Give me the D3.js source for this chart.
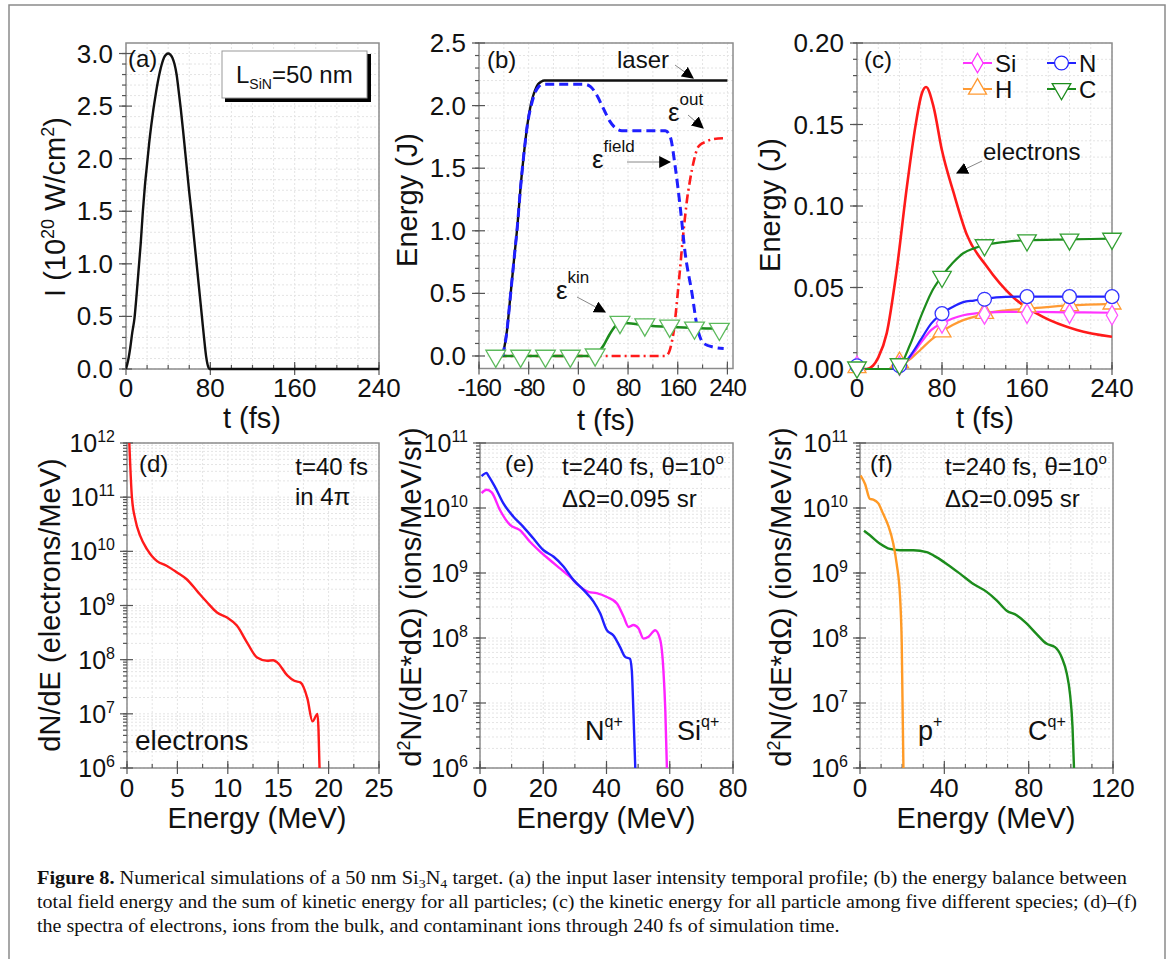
<!DOCTYPE html>
<html><head><meta charset="utf-8">
<script src="https://cdn.jsdelivr.net/npm/d3@7"></script>
<style>
html,body{margin:0;padding:0;background:#fff;}
svg{display:block;}
</style></head>
<body>
<svg id="fig" width="1171" height="959"></svg>
<script>
// ---------------- DATA ----------------
// (a) laser intensity
const pulseT = [0,2,4,6,8,10,12,14,16,18,20,22,24,26,28,30,32,34,36,38,40,42,44,46,48,50,52,54,56,58,60,62,64,66,68,70,72,74,76,78,79,240];
const pulseI = [0,0.08,0.2,0.35,0.48,0.7,0.95,1.2,1.5,1.75,1.95,2.15,2.32,2.47,2.6,2.72,2.82,2.9,2.96,2.99,3.0,2.99,2.96,2.9,2.8,2.64,2.47,2.28,2.08,1.88,1.68,1.5,1.3,1.1,0.9,0.7,0.5,0.3,0.12,0.02,0,0];

// (b) energy balance
const laserT = [-122,-115,-110,-104,-98,-93,-88,-82,-76,-70,-65,-60,-55,240];
const laserE = [0,0.2,0.45,0.75,1.05,1.35,1.6,1.85,2.02,2.12,2.17,2.19,2.2,2.2];
const fieldT = [-122,-115,-110,-104,-98,-93,-88,-82,-76,-70,-64,-58,10,20,30,40,50,60,70,140,148,156,164,172,183,191,202,218,234];
const fieldE = [0,0.2,0.45,0.75,1.05,1.35,1.6,1.85,2.0,2.1,2.15,2.17,2.17,2.15,2.08,1.98,1.88,1.82,1.8,1.8,1.75,1.51,1.19,0.82,0.5,0.24,0.1,0.07,0.06];
const outT = [-130,140,146,150,153,156,160,164,168,172,175,179,183,187,191,197,205,215,237];
const outE = [0,0,0.03,0.1,0.18,0.3,0.5,0.71,0.93,1.12,1.25,1.38,1.49,1.58,1.65,1.69,1.71,1.73,1.74];
const kinT = [-133,20,30,40,50,60,67,80,100,120,150,180,210,240];
const kinE = [0,0,0.02,0.08,0.17,0.24,0.265,0.262,0.25,0.24,0.232,0.225,0.22,0.22];
const kinMarkT = [-133,-93,-53,-13,27,67,107,147,187,227];
const kinMarkE = [0,0,0,0,0.01,0.27,0.25,0.24,0.225,0.215];

// (c) kinetic energy per species
const elecT = [0,9,15,20,28,37,47,55,61,65,72,80,91,103,122,147,175,207,240];
const elecE = [0,0,0.002,0.007,0.022,0.059,0.112,0.149,0.169,0.173,0.161,0.134,0.108,0.083,0.063,0.044,0.032,0.024,0.0198];
const ionT = [0,30,40,50,60,70,80,90,100,110,120,140,160,200,240];
const cE  = [0,0,0.002,0.015,0.032,0.047,0.057,0.065,0.071,0.074,0.076,0.078,0.079,0.0795,0.080];
const nE  = [0,0,0.001,0.008,0.018,0.028,0.034,0.038,0.041,0.042,0.043,0.0442,0.0444,0.0444,0.0444];
const siE = [0,0,0.001,0.007,0.016,0.024,0.028,0.031,0.033,0.034,0.0345,0.035,0.035,0.0348,0.0345];
const hE  = [0,0,0.002,0.006,0.012,0.018,0.023,0.027,0.030,0.032,0.034,0.036,0.037,0.039,0.040];
const markT = [0,40,80,120,160,200,240];
const cMark  = [0.001,0.003,0.0566,0.076,0.079,0.0795,0.080];
const nMark  = [0.002,0.002,0.034,0.0428,0.0444,0.0444,0.0444];
const siMark = [0.002,0.002,0.028,0.0335,0.034,0.034,0.033];
const hMark  = [0.001,0.004,0.0229,0.0342,0.0382,0.039,0.040];

// (d) electron spectrum
const eSpecE = [0.23,0.49,0.82,1.32,1.98,2.48,2.98,3.97,4.96,5.95,6.94,7.94,8.93,9.92,10.9,11.9,12.9,13.9,14.5,14.9,15.9,16.6,17.2,17.9,18.4,18.9,19.0,19.1];
const eSpecLog = [12,10.99,10.59,10.28,10.04,9.91,9.82,9.73,9.61,9.48,9.27,9.06,8.87,8.78,8.63,8.32,8.04,7.98,7.99,7.95,7.71,7.61,7.58,7.28,6.86,7.0,6.7,6.0];

// (e) bulk ions
const nSpecE = [0.5,2.1,2.5,4.7,7.4,10.5,13.7,16.9,20.1,23.3,26.4,29.6,32.7,35.9,38.0,40.1,42.2,44.3,45.9,47.4,48.0,48.5,49.1];
const nSpecLog = [10.49,10.54,10.51,10.33,10.07,9.87,9.71,9.53,9.35,9.25,9.10,8.89,8.74,8.56,8.38,8.12,8.04,7.86,7.71,7.68,7.50,6.88,6.0];
const siSpecE = [0.5,2.1,3.7,6.3,9.5,12.6,15.8,19.0,22.1,25.3,28.5,31.6,34.3,36.9,40.1,43.3,45.4,47.0,48.5,50.1,51.7,53.3,55.4,57.0,58.0,58.6,59.1];
const siSpecLog = [10.23,10.28,10.24,9.97,9.74,9.66,9.48,9.33,9.20,9.07,8.94,8.79,8.71,8.69,8.63,8.53,8.33,8.17,8.20,8.15,7.99,8.02,8.12,7.97,7.50,6.88,6.0];

// (f) contaminant ions
const pSpecE = [0.3,2.4,4.7,6.3,8.7,11.0,13.4,15.8,17.4,19.0,19.8,20.6];
const pSpecLog = [10.50,10.37,10.14,10.13,10.07,9.91,9.73,9.45,9.14,8.63,7.91,6.0];
const cSpecE = [1.9,4.7,9.5,14.2,19.0,25.3,31.6,36.4,41.1,47.4,53.8,60.1,64.8,69.6,74.3,79.1,83.8,88.6,92.5,95.7,98.1,99.6,100.8,101.5];
const cSpecLog = [9.65,9.58,9.45,9.37,9.35,9.35,9.32,9.24,9.14,8.99,8.83,8.71,8.58,8.42,8.35,8.22,8.06,7.91,7.86,7.70,7.45,7.14,6.63,6.0];

// tick labels
const aXTicks = [0,80,160,240], aYTicks = [0,0.5,1.0,1.5,2.0,2.5,3.0];
const bXTicks = [-160,-80,0,80,160,240], bYTicks = [0,0.5,1.0,1.5,2.0,2.5];
const cXTicks = [0,80,160,240], cYTicks = [0,0.05,0.10,0.15,0.20];
const dXTicks = [0,5,10,15,20,25], dYExp = [6,7,8,9,10,11,12];
const eXTicks = [0,20,40,60,80], eYExp = [6,7,8,9,10,11];
const fXTicks = [0,40,80,120], fYExp = [6,7,8,9,10,11];

// ---------------- DRAW ----------------
const SANS = "'Liberation Sans', Arial, Helvetica, sans-serif";
const SERIF = "'Liberation Serif', 'Times New Roman', serif";
const svg = d3.select('#fig');
svg.append('rect').attr('x',0).attr('y',0).attr('width',1171).attr('height',959).attr('fill','#fff');
svg.append('rect').attr('x',9).attr('y',5).attr('width',1156).attr('height',1000)
  .attr('fill','none').attr('stroke','#8a8a8a').attr('stroke-width',1.5);

const defs = svg.append('defs');
defs.append('marker').attr('id','arr').attr('viewBox','0 0 10 10').attr('refX',9).attr('refY',5)
  .attr('markerWidth',12).attr('markerHeight',12).attr('markerUnits','userSpaceOnUse').attr('orient','auto')
  .append('path').attr('d','M0,0 L10,5 L0,10 Z').attr('fill','#000');

const zip = (xs, ys) => xs.map((v,i)=>[v, ys[i]]);

function panel(c){
  const g = svg.append('g');
  const x = d3.scaleLinear().domain(c.xd).range([c.L, c.R]);
  const y = c.log ? d3.scaleLog().domain(c.yd).range([c.B, c.T]) : d3.scaleLinear().domain(c.yd).range([c.B, c.T]);
  const gx = c.xMinor, gy = c.yMinor;
  g.selectAll('.gx').data(gx).join('line').attr('x1',d=>x(d)).attr('x2',d=>x(d)).attr('y1',c.T).attr('y2',c.B)
    .attr('stroke','#e4e4e4').attr('stroke-width',1).attr('stroke-dasharray','2,2');
  g.selectAll('.gy').data(gy).join('line').attr('y1',d=>y(d)).attr('y2',d=>y(d)).attr('x1',c.L).attr('x2',c.R)
    .attr('stroke','#e4e4e4').attr('stroke-width',1).attr('stroke-dasharray','2,2');
  g.append('rect').attr('x',c.L).attr('y',c.T).attr('width',c.R-c.L).attr('height',c.B-c.T)
    .attr('fill','none').attr('stroke','#8c8c8c').attr('stroke-width',1.5);
  const tk = g.append('g').attr('stroke','#555').attr('stroke-width',1.2);
  gx.forEach(v=>{ tk.append('line').attr('x1',x(v)).attr('x2',x(v)).attr('y1',c.B-4).attr('y2',c.B); });
  c.xMajor.forEach(v=>{ tk.append('line').attr('x1',x(v)).attr('x2',x(v)).attr('y1',c.B-7).attr('y2',c.B+6); });
  gy.forEach(v=>{ tk.append('line').attr('y1',y(v)).attr('y2',y(v)).attr('x1',c.L-4).attr('x2',c.L); });
  c.yMajor.forEach(v=>{ tk.append('line').attr('y1',y(v)).attr('y2',y(v)).attr('x1',c.L-7).attr('x2',c.L+6); });
  c.xLabels.forEach(v=>{
    g.append('text').attr('x',x(v)).attr('y',c.B+(c.xLabOff||29)).attr('text-anchor','middle')
      .attr('font-family',SANS).attr('font-size',c.xFont||26).attr('letter-spacing',c.xLS||0)
      .attr('fill','#111').text(v);
  });
  if(c.log){
    c.yExp.forEach(e=>{
      const t = g.append('text').attr('x',c.L-12).attr('y',y(Math.pow(10,e))+9).attr('text-anchor','end')
        .attr('font-family',SANS).attr('font-size',25).attr('fill','#111');
      t.append('tspan').text('10');
      t.append('tspan').attr('font-size',16).attr('dy',-10).text(e);
    });
  } else {
    c.yLabels.forEach(v=>{
      g.append('text').attr('x',c.L-13).attr('y',y(v)+9).attr('text-anchor','end')
        .attr('font-family',SANS).attr('font-size',26).attr('fill','#111').text(c.yFmt(v));
    });
  }
  const cid = 'clip'+Math.round(c.L)+'_'+Math.round(c.T);
  defs.append('clipPath').attr('id',cid).append('rect').attr('x',c.L).attr('y',c.T-2).attr('width',c.R-c.L).attr('height',c.B-c.T+4);
  const plot = g.append('g').attr('clip-path',`url(#${cid})`);
  return {g, x, y, plot};
}

function drawLine(p, pts, color, w, dash, curve){
  p.plot.append('path').datum(pts)
    .attr('d', d3.line().x(d=>p.x(d[0])).y(d=>p.y(d[1])).curve(curve||d3.curveMonotoneX))
    .attr('fill','none').attr('stroke',color).attr('stroke-width',w)
    .attr('stroke-dasharray',dash||null).attr('stroke-linejoin','round');
}
function drawMarkers(p, pts, type, size, color, rot){
  p.g.selectAll(null).data(pts).join('path')
    .attr('d', d3.symbol().type(type).size(size))
    .attr('transform', d=>`translate(${p.x(d[0])},${p.y(d[1])})${rot?' rotate(180)':''}`)
    .attr('fill','#fff').attr('stroke',color).attr('stroke-width',1.3);
}
function txt(g, x, y, s, size, anchor){
  return g.append('text').attr('x',x).attr('y',y).attr('font-family',SANS).attr('font-size',size||24)
    .attr('fill','#111').attr('text-anchor',anchor||'start').text(s);
}
function ytitle(cx, cy, parts, size){
  const t = svg.append('text').attr('transform',`translate(${cx},${cy}) rotate(-90)`).attr('text-anchor','middle')
    .attr('dy','0.35em').attr('font-family',SANS).attr('font-size',size||29).attr('fill','#111');
  parts.forEach(pp=>{ const ts = t.append('tspan').text(pp.t);
    if(pp.sup){ ts.attr('font-size',18).attr('dy',-11);} if(pp.back){ ts.attr('dy',11);} });
  return t;
}
function xtitle(cx, y, s){
  svg.append('text').attr('x',cx).attr('y',y).attr('text-anchor','middle').attr('font-family',SANS)
    .attr('font-size',29).attr('fill','#111').text(s);
}
function arrow(x1,y1,x2,y2){
  svg.append('line').attr('x1',x1).attr('y1',y1).attr('x2',x2).attr('y2',y2)
    .attr('stroke','#888').attr('stroke-width',1).attr('marker-end','url(#arr)');
}
const r = (a,b,s)=>d3.range(a,b+s/2,s);

// ---- (a)
const pa = panel({L:126,R:379,T:43,B:369,xd:[0,240],yd:[0,3.1],
  xMinor:r(0,240,20),yMinor:r(0,3.0,0.1),xMajor:r(0,240,80),yMajor:r(0,3.0,0.5),
  xLabels:aXTicks,xLabOff:28,yLabels:aYTicks,yFmt:d3.format('.1f')});
drawLine(pa, zip(pulseT,pulseI), '#111', 2.4);
txt(svg,128,67,'(a)',24);
svg.append('rect').attr('x',225).attr('y',54).attr('width',146).attr('height',48).attr('fill','#000');
svg.append('rect').attr('x',222).attr('y',51).attr('width',145).attr('height',47).attr('fill','#fff').attr('stroke','#999').attr('stroke-width',1);
{ const t = txt(svg,236,83,'',24); t.append('tspan').text('L');
  t.append('tspan').attr('font-size',14).attr('dy',6).text('SiN'); t.append('tspan').attr('dy',-6).text('=50 nm'); }
xtitle(252,428,'t (fs)');
ytitle(55,207,[{t:'I (10'},{t:'20',sup:true},{t:' W/cm',back:true},{t:'2',sup:true},{t:')',back:true}]);

// ---- (b)
const pb = panel({L:479,R:733,T:43,B:368.5,xd:[-160,249],yd:[-0.1,2.5],
  xMinor:r(-160,240,40),yMinor:r(0,2.5,0.1),xMajor:r(-160,240,80),yMajor:r(0,2.5,0.5),
  xLabels:bXTicks,xFont:24,xLS:-1.2,xLabOff:27,yLabels:bYTicks,yFmt:d3.format('.1f')});
drawLine(pb, zip(outT,outE), '#ff1a1a', 2.6, '9,4,2,4');
drawLine(pb, zip(kinT,kinE), '#1c8c1c', 2.6);
drawLine(pb, zip(laserT,laserE), '#111', 2.4);
drawLine(pb, zip(fieldT,fieldE), '#1f1fff', 3, '9,5');
drawMarkers(pb, zip(kinMarkT,kinMarkE), d3.symbolTriangle, 170, '#5cba5c', true);
txt(svg,487,68,'(b)',24);
txt(svg,617,68,'laser',24);
arrow(675,65,693,78);
{ const t = txt(svg,592,168,'',26); t.append('tspan').text('ε'); t.append('tspan').attr('font-size',17).attr('dy',-16).text('field'); }
arrow(627,162,670,162);
{ const t = txt(svg,668,121,'',26); t.append('tspan').text('ε'); t.append('tspan').attr('font-size',17).attr('dy',-16).text('out'); }
arrow(688,115,703,128);
{ const t = txt(svg,556,299,'',26); t.append('tspan').text('ε'); t.append('tspan').attr('font-size',17).attr('dy',-16).text('kin'); }
arrow(577,297,605,312);
xtitle(606,430,'t (fs)');
ytitle(407,200,[{t:'Energy (J)'}]);

// ---- (c)
const pc = panel({L:857,R:1112,T:43,B:369,xd:[0,240],yd:[0,0.2],
  xMinor:r(0,240,20),yMinor:r(0,0.2,0.01),xMajor:r(0,240,80),yMajor:r(0,0.2,0.05),
  xLabels:cXTicks,xLabOff:28,yLabels:cYTicks,yFmt:d3.format('.2f')});
drawLine(pc, zip(elecT,elecE), '#ff1a1a', 2.6);
drawLine(pc, zip(ionT,hE), '#ff9a33', 2.2);
drawLine(pc, zip(ionT,siE), '#ff33ff', 2.2);
drawLine(pc, zip(ionT,nE), '#2222ff', 2.2);
drawLine(pc, zip(ionT,cE), '#1c8c1c', 2.2);
drawMarkers(pc, zip(markT,hMark), d3.symbolTriangle, 140, '#ff9a33');
drawMarkers(pc, zip(markT,siMark), d3.symbolDiamond, 110, '#ff55ff');
drawMarkers(pc, zip(markT,nMark), d3.symbolCircle, 150, '#3333ff');
drawMarkers(pc, zip(markT,cMark), d3.symbolTriangle, 150, '#33a033', true);
txt(svg,864,68,'(c)',24);
const leg = [
  {n:'Si',x:963,y:63,c:'#ff33ff',m:d3.symbolDiamond,s:110,rot:false},
  {n:'N',x:1047,y:63,c:'#2222ff',m:d3.symbolCircle,s:150,rot:false},
  {n:'H',x:963,y:89,c:'#ff9a33',m:d3.symbolTriangle,s:140,rot:false},
  {n:'C',x:1047,y:89,c:'#1c8c1c',m:d3.symbolTriangle,s:150,rot:true}];
leg.forEach(l=>{
  svg.append('line').attr('x1',l.x).attr('x2',l.x+29).attr('y1',l.y).attr('y2',l.y).attr('stroke',l.c).attr('stroke-width',2);
  svg.append('path').attr('d',d3.symbol().type(l.m).size(l.s)()).attr('transform',`translate(${l.x+14.5},${l.y})${l.rot?' rotate(180)':''}`)
    .attr('fill','#fff').attr('stroke',l.c).attr('stroke-width',1.3);
  txt(svg,l.x+32,l.y+9,l.n,24);
});
txt(svg,983,160,'electrons',24);
arrow(982,161,957,173);
xtitle(985,428,'t (fs)');
ytitle(770,205,[{t:'Energy (J)'}]);

// ---- (d)
const logMinor = (a,b)=>{ const o=[]; for(let e=a;e<b;e++){ for(let k=1;k<10;k++) o.push(k*Math.pow(10,e)); } o.push(Math.pow(10,b)); return o; };
const pd = panel({L:127,R:379,T:443,B:768,xd:[0,25],yd:[1e6,1e12],log:true,
  xMinor:r(0,25,2.5),yMinor:logMinor(6,12),xMajor:r(0,25,5),yMajor:dYExp.map(e=>Math.pow(10,e)),
  xLabels:dXTicks,yExp:dYExp});
drawLine(pd, eSpecE.map((v,i)=>[v,Math.pow(10,eSpecLog[i])]), '#ff1a1a', 2.4);
txt(svg,139,472,'(d)',24);
txt(svg,368,475,'t=40 fs',24,'end');
txt(svg,295,505,'in 4π',24);
txt(svg,135,750,'electrons',28);
xtitle(257,828,'Energy (MeV)');
ytitle(50,605,[{t:'dN/dE (electrons/MeV)'}]);

// ---- (e)
const pe = panel({L:480,R:733,T:443,B:768,xd:[0,80],yd:[1e6,1e11],log:true,
  xMinor:r(0,80,10),yMinor:logMinor(6,11),xMajor:r(0,80,20),yMajor:eYExp.map(e=>Math.pow(10,e)),
  xLabels:eXTicks,yExp:eYExp});
drawLine(pe, siSpecE.map((v,i)=>[v,Math.pow(10,siSpecLog[i])]), '#ff22ff', 2.4);
drawLine(pe, nSpecE.map((v,i)=>[v,Math.pow(10,nSpecLog[i])]), '#2020ff', 2.4);
txt(svg,505,472,'(e)',24);
{ const t = txt(svg,562,475,'',24); t.append('tspan').text('t=240 fs, θ=10'); t.append('tspan').attr('font-size',15).attr('dy',-11).text('o'); }
txt(svg,562,507,'ΔΩ=0.095 sr',24);
{ const t = txt(svg,585,740,'',27); t.append('tspan').text('N'); t.append('tspan').attr('font-size',16).attr('dy',-13).text('q+'); }
{ const t = txt(svg,677,740,'',27); t.append('tspan').text('Si'); t.append('tspan').attr('font-size',16).attr('dy',-13).text('q+'); }
xtitle(606,828,'Energy (MeV)');
ytitle(411,597,[{t:'d'},{t:'2',sup:true},{t:'N/(dE*dΩ) (ions/MeV/sr)',back:true}]);

// ---- (f)
const pf = panel({L:860,R:1113,T:443,B:768,xd:[0,120],yd:[1e6,1e11],log:true,
  xMinor:r(0,120,10),yMinor:logMinor(6,11),xMajor:r(0,120,40),yMajor:fYExp.map(e=>Math.pow(10,e)),
  xLabels:fXTicks,yExp:fYExp});
drawLine(pf, cSpecE.map((v,i)=>[v,Math.pow(10,cSpecLog[i])]), '#1c8c1c', 2.4);
drawLine(pf, pSpecE.map((v,i)=>[v,Math.pow(10,pSpecLog[i])]), '#ff9a26', 2.4);
txt(svg,870,472,'(f)',24);
{ const t = txt(svg,945,475,'',24); t.append('tspan').text('t=240 fs, θ=10'); t.append('tspan').attr('font-size',15).attr('dy',-11).text('o'); }
txt(svg,945,507,'ΔΩ=0.095 sr',24);
{ const t = txt(svg,918,740,'',27); t.append('tspan').text('p'); t.append('tspan').attr('font-size',16).attr('dy',-13).text('+'); }
{ const t = txt(svg,1028,740,'',27); t.append('tspan').text('C'); t.append('tspan').attr('font-size',16).attr('dy',-13).text('q+'); }
xtitle(986,828,'Energy (MeV)');
ytitle(781,597,[{t:'d'},{t:'2',sup:true},{t:'N/(dE*dΩ) (ions/MeV/sr)',back:true}]);

// ---- caption
const cap = svg.append('g').attr('font-family',SERIF).attr('font-size',19).attr('fill','#111');
const l1 = cap.append('text').attr('x',37).attr('y',884);
l1.append('tspan').attr('font-weight','bold').text('Figure 8.');
l1.append('tspan').text(' Numerical simulations of a 50 nm Si');
l1.append('tspan').attr('font-size',13).attr('dy',4).text('3');
l1.append('tspan').attr('dy',-4).text('N');
l1.append('tspan').attr('font-size',13).attr('dy',4).text('4');
l1.append('tspan').attr('dy',-4).text(' target. (a) the input laser intensity temporal profile; (b) the energy balance between');
const l2 = cap.append('text').attr('x',37).attr('y',908).text('total field energy and the sum of kinetic energy for all particles; (c) the kinetic energy for all particle among five different species; (d)–(f)');
const l3 = cap.append('text').attr('x',37).attr('y',932).text('the spectra of electrons, ions from the bulk, and contaminant ions through 240 fs of simulation time.');
const w2 = l2.node().getComputedTextLength();
const f2 = 1100 / w2;
l1.attr('textLength', 1090).attr('lengthAdjust','spacingAndGlyphs');
l2.attr('textLength', 1100).attr('lengthAdjust','spacingAndGlyphs');
l3.attr('textLength', l3.node().getComputedTextLength()*f2).attr('lengthAdjust','spacingAndGlyphs');
</script>
</body></html>
